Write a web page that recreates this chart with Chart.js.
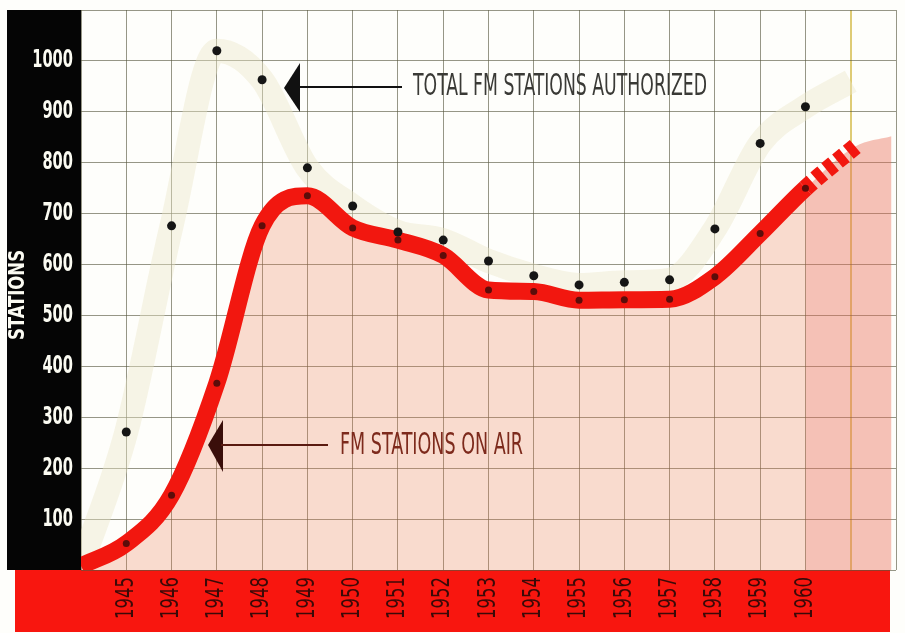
<!DOCTYPE html>
<html>
<head>
<meta charset="utf-8">
<script src="https://cdn.jsdelivr.net/npm/chart.js@4.4.1/dist/chart.umd.min.js"></script>
<style>
  html, body { margin: 0; padding: 0; background: #fff; }
  #wrap { width: 905px; height: 633px; position: relative; }
</style>
</head>
<body>
<div id="wrap"><canvas id="fm"></canvas></div>
<script>
// ── Data ──────────────────────────────────────────────────────
const YEARS      = [1945, 1946, 1947, 1948, 1949, 1950, 1951, 1952, 1953, 1954, 1955, 1956, 1957, 1958, 1959, 1960];
const AUTHORIZED = [271, 676, 1020, 963, 790, 715, 664, 648, 607, 578, 560, 565, 570, 670, 838, 910];
const ON_AIR     = [52, 147, 367, 676, 735, 672, 648, 618, 550, 547, 530, 531, 532, 576, 661, 750];
const Y_TICKS    = [100, 200, 300, 400, 500, 600, 700, 800, 900, 1000];

// hand-drawn lead-in at the left edge, and the projection past 1960
const START_YEAR   = 1944;
const START_VALUE  = 8;
const AUTH_TAIL_YEARS   = [1961];
const AUTH_TAIL         = [960];
const ON_AIR_TAIL_YEARS = [1961.1];
const ON_AIR_TAIL       = [832];
const FILL_EDGE_YEARS   = [1961.9];
const FILL_EDGE         = [852];

const pts = (xs, ys) => xs.map((x, i) => ({ x, y: ys[i] }));
const start = [{ x: START_YEAR, y: START_VALUE }];

// ── Palette ───────────────────────────────────────────────────
const COLORS = {
  red:      "#f2170f",
  bar:      "#f8160f",
  panel:    "#050505",
  dotDark:  "#151515",
  dotRed:   "#5c0d0a",
  band:     "rgba(236,232,200,0.42)",
  fill:     "rgba(236,125,85,0.27)",
  projFill: "rgba(232,90,90,0.2)",
  grid:     "rgba(85,85,62,0.62)",
  grid1961: "rgba(220,200,110,0.95)",
};

// ── Text helper: squeeze text into a given width ─────────────
function fitText(ctx, text, x, y, width, font, color, align, rotate) {
  ctx.save();
  ctx.font = font;
  ctx.fillStyle = color;
  ctx.textBaseline = "middle";
  ctx.textAlign = "left";
  const w = ctx.measureText(text).width;
  ctx.translate(x, y);
  if (rotate) ctx.rotate(rotate);
  ctx.scale(width / w, 1);
  let off = 0;
  if (align === "right") off = -w;
  else if (align === "center") off = -w / 2;
  ctx.fillText(text, off, 0);
  ctx.restore();
}

// ── Backdrop: black axis panel and red year strip ─────────────
const backdrop = {
  id: "backdrop",
  beforeDraw(chart) {
    const { ctx, chartArea: a, width, height } = chart;
    ctx.save();
    ctx.fillStyle = "#fefefb";
    ctx.fillRect(0, 0, width, height);
    ctx.fillStyle = COLORS.panel;
    ctx.fillRect(7, a.top, a.left - 7, a.bottom - a.top);
    ctx.fillStyle = COLORS.bar;
    ctx.fillRect(15, a.bottom, 875, height - a.bottom - 1);
    ctx.restore();
  }
};

// ── Labels and annotations ────────────────────────────────────
const labels = {
  id: "labels",
  afterDraw(chart) {
    const { ctx, chartArea: a, scales: { x, y } } = chart;
    const narrow = '"Liberation Sans Narrow", "DejaVu Sans Condensed", sans-serif';

    Y_TICKS.forEach(v => {
      const s = String(v);
      fitText(ctx, s, a.left - 8, y.getPixelForValue(v), 10.2 * s.length,
        "bold 25px " + narrow, "#fbfbf2", "right");
    });
    fitText(ctx, "STATIONS", 19, 295, 90, "bold 21px " + narrow, "#fbfbf2", "center", -Math.PI / 2);

    YEARS.forEach(yr => {
      fitText(ctx, String(yr), x.getPixelForValue(yr), 598, 42,
        "24px " + narrow, "#3a0a08", "center", -Math.PI / 2);
    });

    // arrow + caption: authorized
    ctx.save();
    ctx.fillStyle = "#111";
    ctx.beginPath();
    ctx.moveTo(284, 88); ctx.lineTo(300, 63); ctx.lineTo(300, 112); ctx.closePath();
    ctx.fill();
    ctx.strokeStyle = "#111"; ctx.lineWidth = 2;
    ctx.beginPath(); ctx.moveTo(298, 87); ctx.lineTo(402, 87); ctx.stroke();
    ctx.restore();
    fitText(ctx, "TOTAL FM STATIONS AUTHORIZED", 413, 87, 294, "30px " + narrow, "#3a3a36", "left");

    // arrow + caption: on air
    ctx.save();
    ctx.fillStyle = "#3a0e0a";
    ctx.beginPath();
    ctx.moveTo(208, 445); ctx.lineTo(223, 420); ctx.lineTo(223, 472); ctx.closePath();
    ctx.fill();
    ctx.strokeStyle = "#5a1a10"; ctx.lineWidth = 2;
    ctx.beginPath(); ctx.moveTo(221, 445); ctx.lineTo(328, 445); ctx.stroke();
    ctx.restore();
    fitText(ctx, "FM STATIONS ON AIR", 340, 446, 183, "30px " + narrow, "#7d2a1c", "left");
  }
};

const onAirPts = pts(YEARS, ON_AIR);
const authPts  = pts(YEARS, AUTHORIZED);

new Chart(document.getElementById("fm"), {
  type: "scatter",
  data: {
    datasets: [
      {
        data: authPts, showLine: false, order: 0,
        pointRadius: 4.5, pointBackgroundColor: COLORS.dotDark, pointBorderWidth: 0,
      },
      {
        data: onAirPts, showLine: false, order: 0,
        pointRadius: 3.5, pointBackgroundColor: COLORS.dotRed, pointBorderWidth: 0,
      },
      {
        data: [...start, ...onAirPts, ...pts(ON_AIR_TAIL_YEARS, ON_AIR_TAIL)],
        showLine: true, order: 1, pointRadius: 0,
        borderColor: COLORS.red, borderWidth: 17,
        cubicInterpolationMode: "monotone", tension: 0.4,
        segment: { borderDash: c => c.p0.parsed.x >= 1960 ? [9, 5] : undefined },
      },
      {
        data: [...start, ...authPts, ...pts(AUTH_TAIL_YEARS, AUTH_TAIL)],
        showLine: true, order: 2, pointRadius: 0,
        borderColor: COLORS.band, borderWidth: 24,
        cubicInterpolationMode: "monotone", tension: 0.4,
      },
      {
        data: [onAirPts[onAirPts.length - 1], ...pts(ON_AIR_TAIL_YEARS, ON_AIR_TAIL), ...pts(FILL_EDGE_YEARS, FILL_EDGE)],
        showLine: true, order: 3, pointRadius: 0, borderWidth: 0,
        fill: "origin", backgroundColor: COLORS.projFill,
        cubicInterpolationMode: "monotone",
      },
      {
        data: [...start, ...onAirPts, ...pts(ON_AIR_TAIL_YEARS, ON_AIR_TAIL), ...pts(FILL_EDGE_YEARS, FILL_EDGE)],
        showLine: true, order: 4, pointRadius: 0, borderWidth: 0,
        fill: "origin", backgroundColor: COLORS.fill,
        cubicInterpolationMode: "monotone",
      },
    ]
  },
  options: {
    responsive: true,
    maintainAspectRatio: false,
    animation: false,
    devicePixelRatio: 1,
    layout: { padding: { left: 81, top: 10, right: 9, bottom: 63 } },
    plugins: { legend: { display: false }, tooltip: { enabled: false } },
    scales: {
      x: {
        type: "linear", min: 1944, max: 1962,
        ticks: { display: false, stepSize: 1 },
        border: { display: false },
        grid: {
          drawTicks: false,
          color: c => c.tick && c.tick.value === 1961 ? COLORS.grid1961 : COLORS.grid,
          lineWidth: c => c.tick && c.tick.value === 1961 ? 2 : 1,
        },
      },
      y: {
        min: 0, max: 1100,
        ticks: { display: false, stepSize: 100 },
        border: { display: false },
        grid: { drawTicks: false, color: COLORS.grid, lineWidth: 1 },
      }
    }
  },
  plugins: [backdrop, labels]
});
</script>
</body>
</html>
